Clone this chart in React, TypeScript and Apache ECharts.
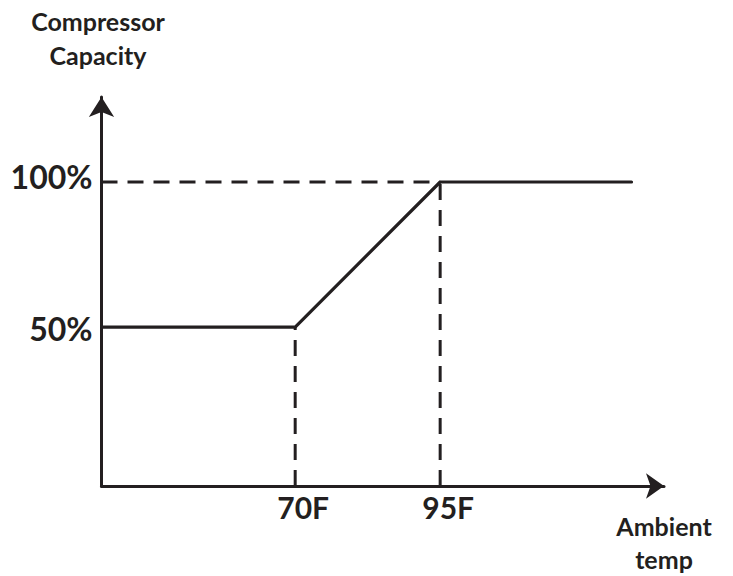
import React, { useEffect, useRef } from "react";
import * as echarts from "echarts";

// Axis ranges (schematic, ambient temperature in F, capacity in %)
const xMin = 36.6;
const xMax = 133.6;
const yMin = -4.8;
const yMax = 129.3;

// Capacity curve
const capacityTemps = [36.6, 70, 95, 128];
const capacityValues = [50, 50, 100, 100];

// Tick labels
const tempTicks = [70, 95];
const tempTickLabels = ["70F", "95F"];
const capacityTicks = [50, 100];
const capacityTickLabels = ["50%", "100%"];

const INK = "#231f20";
const FONT = "Lato";

export default function App() {
  const ref = useRef<HTMLDivElement>(null);

  useEffect(() => {
    if (!ref.current) return;
    const chart = echarts.init(ref.current, null, { renderer: "svg" });

    const curve = capacityTemps.map((t, i) => [t, capacityValues[i]]);
    const guideH = [
      [xMin, capacityTicks[1]],
      [tempTicks[1], capacityTicks[1]],
    ];
    const guideV1 = [
      [tempTicks[0], yMin],
      [tempTicks[0], capacityTicks[0]],
    ];
    const guideV2 = [
      [tempTicks[1], yMin],
      [tempTicks[1], capacityTicks[1]],
    ];

    const dashed = (data: number[][]) => ({
      type: "line",
      data,
      symbol: "none",
      silent: true,
      z: 1,
      lineStyle: { color: INK, width: 3, type: [16, 10], cap: "butt" },
    });

    const labelBase = { fontFamily: FONT, fontWeight: "bold", fontSize: 32, color: INK };

    chart.setOption({
      animation: false,
      backgroundColor: "#ffffff",
      grid: {
        left: 101.5,
        right: 69,
        top: 97,
        bottom: 90,
        containLabel: false,
        outerBoundsMode: "none",
      },
      xAxis: {
        type: "value",
        min: xMin,
        max: xMax,
        name: "Ambient\ntemp",
        nameLocation: "end",
        nameGap: 0,
        nameTextStyle: {
          fontFamily: FONT,
          fontWeight: "bold",
          fontSize: 25,
          lineHeight: 33,
          color: INK,
          align: "center",
          verticalAlign: "top",
          padding: [23, 0, 0, 0],
        },
        axisLine: {
          show: true,
          onZero: false,
          symbol: ["none", "arrow"],
          symbolSize: [19, 18],
          lineStyle: { color: INK, width: 3 },
        },
        axisTick: { show: false },
        splitLine: { show: false },
        axisLabel: {
          customValues: tempTicks,
          formatter: (v: number) => tempTickLabels[tempTicks.indexOf(v)] ?? "",
          fontFamily: FONT,
          fontWeight: "bold",
          fontSize: 30,
          color: INK,
          margin: 6,
          padding: [0, 0, 0, 16],
        },
      },
      yAxis: {
        type: "value",
        min: yMin,
        max: yMax,
        name: "Compressor\nCapacity",
        nameLocation: "end",
        nameGap: 25,
        nameTextStyle: {
          fontFamily: FONT,
          fontWeight: "bold",
          fontSize: 25,
          lineHeight: 34,
          color: INK,
          align: "center",
          verticalAlign: "bottom",
          padding: [0, 7, 0, 0],
        },
        axisLine: {
          show: true,
          onZero: false,
          symbol: ["none", "arrow"],
          symbolSize: [19, 20],
          lineStyle: { color: INK, width: 3 },
        },
        axisTick: { show: false },
        splitLine: { show: false },
        axisLabel: {
          customValues: capacityTicks,
          formatter: (v: number) => {
            const i = capacityTicks.indexOf(v);
            if (i < 0) return "";
            return `{${i === 0 ? "lo" : "hi"}|${capacityTickLabels[i]}}`;
          },
          ...labelBase,
          margin: 9,
          rich: {
            lo: { ...labelBase, padding: [3, 0, 0, 0] },
            hi: { ...labelBase, padding: [0, 0, 11, 0] },
          },
        },
      },
      series: [
        dashed(guideH),
        dashed(guideV1),
        dashed(guideV2),
        {
          type: "line",
          data: curve,
          symbol: "none",
          silent: true,
          z: 3,
          lineStyle: { color: INK, width: 3.2, cap: "round", join: "round" },
        },
      ],
    });

    return () => chart.dispose();
  }, []);

  return (
    <div
      ref={ref}
      style={{ position: "absolute", left: 0, top: 0, width: 733, height: 576, background: "#fff" }}
    />
  );
}
